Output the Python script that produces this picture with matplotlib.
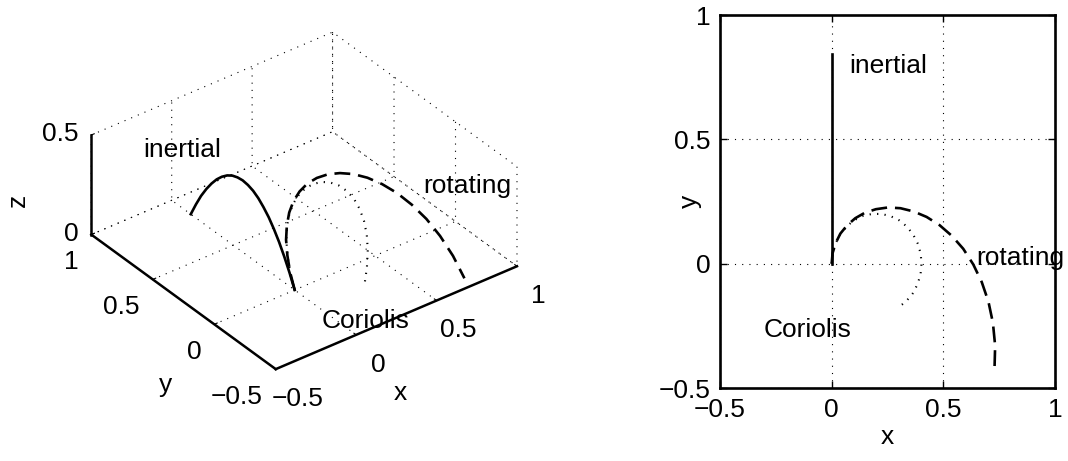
import matplotlib
matplotlib.use("Agg")
import matplotlib.pyplot as plt

# Ball launched from the origin: straight path seen from the inertial frame,
# spiral path seen from the rotating frame, and the Coriolis-only circle.
x_inertial = [0.0] * 21
y_inertial = [0.000, 0.042, 0.085, 0.127, 0.169, 0.211, 0.254, 0.296, 0.338, 0.380,
              0.423, 0.465, 0.507, 0.549, 0.592, 0.634, 0.676, 0.718, 0.761, 0.803, 0.845]

x_rotating = [0.000, 0.004, 0.018, 0.039, 0.069, 0.106, 0.149, 0.198, 0.252, 0.308,
              0.367, 0.425, 0.483, 0.538, 0.589, 0.634, 0.672, 0.702, 0.722, 0.732, 0.729]
y_rotating = [0.000, 0.042, 0.083, 0.121, 0.154, 0.183, 0.205, 0.219, 0.226, 0.223,
              0.210, 0.188, 0.155, 0.112, 0.060, -0.003, -0.074, -0.153, -0.238, -0.330, -0.427]

x_coriolis = [0.000, 0.004, 0.018, 0.039, 0.067, 0.101, 0.140, 0.181, 0.223, 0.264,
              0.303, 0.337, 0.365, 0.386, 0.399, 0.402, 0.398, 0.384, 0.362, 0.333, 0.300]
y_coriolis = [0.000, 0.042, 0.082, 0.119, 0.150, 0.175, 0.192, 0.200, 0.200, 0.191,
              0.174, 0.149, 0.117, 0.080, 0.039, -0.002, -0.043, -0.084, -0.121, -0.152, -0.175]

# height of the ball along the flight (same for every frame)
z_height = [0.000, 0.068, 0.130, 0.184, 0.230, 0.270, 0.302, 0.328, 0.346, 0.356,
            0.360, 0.356, 0.346, 0.328, 0.302, 0.270, 0.230, 0.184, 0.130, 0.068, 0.000]

xy_ticks = [-0.5, 0, 0.5, 1]
z_ticks = [0, 0.5]
tick_text = ["\u22120.5", "0", "0.5", "1"]
z_tick_text = ["0", "0.5"]

plt.rcParams["font.family"] = ["Liberation Sans", "DejaVu Sans"]
plt.rcParams["font.size"] = 19

LW = 1.9
DASHED = (0, (6.0, 3.0))
DOTTED = (0, (0.6, 3.0))
GRID = (0, (1.0, 5.5))

W, H = 1068, 461
fig = plt.figure(figsize=(W / 100, H / 100), dpi=100)

# ---------------- 3-D view ----------------
ax3 = fig.add_axes([0.0765, 0.0826, 0.4056, 0.939], projection="3d")
ax3._view_margin = 0
ax3.set_proj_type("ortho")
ax3.view_init(elev=33.9, azim=-127.4)
ax3.set_box_aspect((1, 1, 0.395))

ax3.plot(x_inertial, y_inertial, z_height, color="k", lw=LW)
ax3.plot(x_rotating, y_rotating, z_height, color="k", lw=LW, ls=DASHED)
ax3.plot(x_coriolis, y_coriolis, z_height, color="k", lw=1.5, ls=DOTTED)

ax3.set_xlim(-0.5, 1)
ax3.set_ylim(-0.5, 1)
ax3.set_zlim(0, 0.5)
ax3.set_xticks(xy_ticks)
ax3.set_yticks(xy_ticks)
ax3.set_zticks(z_ticks, z_tick_text)
ax3.xaxis.set_tick_params(labelbottom=False, labeltop=False)
ax3.yaxis.set_tick_params(labelbottom=False, labeltop=False)

for axis in (ax3.xaxis, ax3.yaxis, ax3.zaxis):
    axis.pane.fill = False
    axis.pane.set_edgecolor("none")
    axis.line.set_linewidth(1.8)
    axis._axinfo["grid"].update(color="k", linewidth=0.8, linestyle=GRID)
    axis._axinfo["tick"].update(inward_factor=0.0, outward_factor=0.15)
    axis.label.set_visible(False)
    axis.offsetText.set_visible(False)

ax3.zaxis.set_tick_params(pad=-3.2)
for tick in ax3.zaxis.get_major_ticks():
    tick.label1.set_horizontalalignment("right")
    tick.label1.set_verticalalignment("center")

# floor tick labels, set just below the floor edges
for val, txt in zip(xy_ticks, tick_text):
    ax3.text(val, -0.677, -0.07, txt, ha="center", va="center")
    ax3.text(-0.581, val, -0.11, txt, ha="right", va="center")

fig.text(400 / W, 1 - 393 / H, "x", ha="center", va="center")
fig.text(166 / W, 1 - 385 / H, "y", ha="center", va="center")
fig.text(18 / W, 1 - 200 / H, "z", ha="center", va="center", rotation=90)

ax3.text2D(143 / W, 1 - 157 / H, "inertial", transform=fig.transFigure)
ax3.text2D(423 / W, 1 - 193 / H, "rotating", transform=fig.transFigure)
ax3.text2D(322 / W, 1 - 328 / H, "Coriolis", transform=fig.transFigure)

# ---------------- top view ----------------
ax2 = fig.add_axes([720 / W, 1 - 388 / H, 335 / W, 373 / H])
ax2.plot(x_inertial, y_inertial, color="k", lw=LW)
ax2.plot(x_rotating, y_rotating, color="k", lw=LW, ls=DASHED)
ax2.plot(x_coriolis, y_coriolis, color="k", lw=1.5, ls=DOTTED)
ax2.set_xlim(-0.5, 1)
ax2.set_ylim(-0.5, 1)
ax2.set_xticks(xy_ticks, tick_text)
ax2.set_yticks(xy_ticks, tick_text)
ax2.grid(True, color="k", lw=0.8, ls=GRID)
ax2.tick_params(direction="in", top=True, right=True, length=5, width=1, pad=7)
for sp in ax2.spines.values():
    sp.set_linewidth(1.9)
ax2.xaxis.offsetText.set_visible(False)
ax2.yaxis.offsetText.set_visible(False)
ax2.set_xlabel("x", labelpad=2)
ax2.set_ylabel("y", va="center")
ax2.yaxis.set_label_coords(-0.0896, 0.5)

ax2.text(0.078, 0.767, "inertial")
ax2.text(0.649, -0.005, "rotating")
ax2.text(-0.303, -0.296, "Coriolis")

fig.savefig("out.png", dpi=100)
